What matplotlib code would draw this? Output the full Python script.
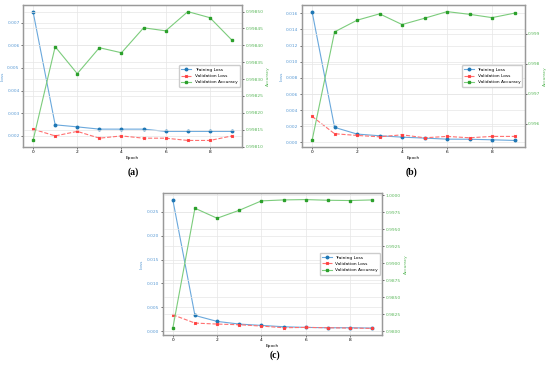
import matplotlib
matplotlib.use("Agg")
import matplotlib.pyplot as plt

epochs = list(range(10))

train_a = [0.00749, 0.00249, 0.00240, 0.00230, 0.00230, 0.00230, 0.00220, 0.00220, 0.00220, 0.00220]
val_a = [0.00230, 0.00200, 0.00220, 0.00190, 0.00200, 0.00190, 0.00190, 0.00180, 0.00180, 0.00200]
acc_a = [0.998118, 0.998396, 0.998316, 0.998393, 0.998378, 0.998452, 0.998443, 0.998500, 0.998482, 0.998415]

train_b = [0.01620, 0.00187, 0.00104, 0.00083, 0.00066, 0.00054, 0.00041, 0.00040, 0.00033, 0.00025]
val_b = [0.00323, 0.00108, 0.00087, 0.00070, 0.00095, 0.00058, 0.00075, 0.00058, 0.00075, 0.00075]
acc_b = [0.995444, 0.999056, 0.999444, 0.999656, 0.999300, 0.999510, 0.999730, 0.999640, 0.999530, 0.999680]

train_c = [0.02760, 0.00328, 0.00203, 0.00147, 0.00119, 0.00091, 0.00077, 0.00070, 0.00070, 0.00063]
val_c = [0.00342, 0.00168, 0.00147, 0.00133, 0.00105, 0.00070, 0.00077, 0.00070, 0.00063, 0.00056]
acc_c = [0.98044, 0.99809, 0.99662, 0.99779, 0.99917, 0.99931, 0.99936, 0.99926, 0.99922, 0.99931]

captions = ["(a)", "(b)", "(c)"]

fig = plt.figure(figsize=(5.5, 3.7), dpi=100)

positions = [
    [0.042, 0.603, 0.398, 0.383],
    [0.549, 0.603, 0.405, 0.383],
    [0.296, 0.095, 0.399, 0.383],
]
caption_pos = [(133 / 550, 1 - 172 / 370), (412 / 550, 1 - 172 / 370), (275 / 550, 1 - 355 / 370)]

data = [(train_a, val_a, acc_a, "%.5f", "%.3f"),
        (train_b, val_b, acc_b, "%.3f", "%.3f"),
        (train_c, val_c, acc_c, "%.4f", "%.3f")]

fs = 3.2
blue = "#1f77b4"
green = "#2ca02c"
for i, (tr, va, ac, rfmt, lfmt) in enumerate(data):
    ax = fig.add_axes(positions[i])
    l1, = ax.plot(epochs, tr, color="#6aa8dc", lw=0.8, marker="o", ms=1.8,
                  mfc=blue, mec=blue, label="Training Loss")
    l2, = ax.plot(epochs, va, color="#ff7070", lw=0.8, ls="--", marker="x", ms=1.8,
                  mec="#ff4040", label="Validation Loss")
    ax.set_xlabel("Epoch", fontsize=fs, labelpad=1)
    ax.set_ylabel("Loss", fontsize=fs, color="#5b9bd5", labelpad=2)
    ax.tick_params(axis="y", labelcolor="#5b9bd5", labelsize=fs, length=1.5, width=0.4, pad=1)
    ax.tick_params(axis="x", labelsize=fs, length=1.5, width=0.4, pad=1)
    ax.yaxis.set_major_formatter(matplotlib.ticker.FormatStrFormatter(lfmt))
    ax.grid(True, color="#e6e6e6", lw=0.5)
    ax2 = ax.twinx()
    l3, = ax2.plot(epochs, ac, color="#7ccc7c", lw=0.8, marker="s", ms=1.8,
                   mfc=green, mec=green, label="Validation Accuracy")
    ax2.set_ylabel("Accuracy", fontsize=fs, color="#5cb85c", labelpad=2)
    ax2.tick_params(axis="y", labelcolor="#5cb85c", labelsize=fs, length=1.5, width=0.4, pad=1)
    ax2.yaxis.set_major_formatter(matplotlib.ticker.FormatStrFormatter(rfmt))
    ax2.grid(True, color="#e6e6e6", lw=0.5)
    for a in (ax, ax2):
        for s in a.spines.values():
            s.set_color("#999999")
            s.set_linewidth(0.9)
    ax.set_xticks([0, 2, 4, 6, 8])
    ax2.legend([l1, l2, l3], [l.get_label() for l in (l1, l2, l3)], loc="center right",
               fontsize=fs, framealpha=1, edgecolor="#cccccc", fancybox=True,
               borderpad=0.5, handlelength=2.2)
    fig.text(caption_pos[i][0], caption_pos[i][1], captions[i], ha="center", va="center",
             fontsize=7, fontweight="bold", family="Liberation Serif")

fig.savefig("out.png", dpi=100)
